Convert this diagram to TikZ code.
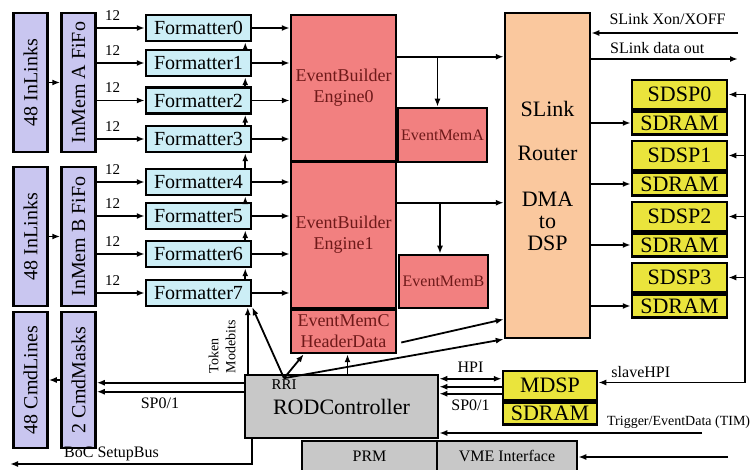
\documentclass[tikz,border=0pt]{standalone}
\usepackage{fontspec}
\setmainfont{Liberation Serif}
\usepackage{graphicx}
\usetikzlibrary{arrows.meta}
\definecolor{clav}{RGB}{201,198,240}
\definecolor{ccyan}{RGB}{204,238,246}
\definecolor{cred}{RGB}{242,128,128}
\definecolor{cpeach}{RGB}{250,200,158}
\definecolor{cyel}{RGB}{234,228,60}
\definecolor{cgray}{RGB}{200,200,200}
\definecolor{cmaroon}{RGB}{110,25,25}
\tikzset{rodpic/.style={x=1pt,y=-1pt,>={Latex[length=8pt,width=6pt]},line width=1.8pt},
  blk/.style={draw,line width=2.5pt,inner sep=1pt,font=\fontsize{20}{22}\selectfont},
  lavbox/.style={blk,fill=clav,minimum width=34pt,minimum height=139pt},
  fmtbox/.style={blk,fill=ccyan,minimum width=105pt,minimum height=26pt},
  ebbox/.style={blk,fill=cred,text=cmaroon,font=\fontsize{18}{21}\selectfont,align=center},
  dspbox/.style={blk,fill=cyel,minimum width=95pt,font=\fontsize{22}{22}\selectfont},
  graybox/.style={blk,fill=cgray},
  lbl/.style={font=\fontsize{16}{16}\selectfont,inner sep=1pt},
  bits/.style={font=\fontsize{15}{15}\selectfont,inner sep=1pt}}
\begin{document}
\begin{tikzpicture}[rodpic]
    \useasboundingbox (0,0) rectangle (753,470);
    \clip (0,0) rectangle (753,470);
    % input links and fifos
    \node[lavbox] (inA) at (30.5,82.5) {\rotatebox{90}{48 InLinks}};
    \node[lavbox] (memA) at (78.5,82.5) {\rotatebox{90}{InMem A FiFo}};
    \node[lavbox] (inB) at (30.5,236.5) {\rotatebox{90}{48 InLinks}};
    \node[lavbox] (memB) at (78.5,236.5) {\rotatebox{90}{InMem B FiFo}};
    \node[lavbox,minimum height=136pt] (cmdL) at (30.5,380) {\rotatebox{90}{48 CmdLines}};
    \node[lavbox,minimum height=136pt] (cmdM) at (78.5,380) {\rotatebox{90}{2 CmdMasks}};
    \draw[->] (inA.east) -- (memA.west);
    \draw[->] (inB.east) -- (memB.west);
    \draw[->] (cmdM.west) -- (cmdL.east);
    % formatters
    \foreach \i/\y in {0/28,1/63,2/100.5,3/139,4/182,5/216,6/254,7/293}
      \node[fmtbox] (f\i) at (198.5,\y) {Formatter\i};
    \foreach \i in {0,...,3}
      \draw[->] (memA.east |- f\i.west) -- node[bits,above=6pt,pos=0.33] {12} (f\i.west);
    \foreach \i in {4,...,7}
      \draw[->] (memB.east |- f\i.west) -- node[bits,above=6pt,pos=0.33] {12} (f\i.west);
    \foreach \a/\b in {1/0,2/1,3/2,4/3,5/4,6/5,7/6}
      \draw[->] ([xshift=-7pt]f\a.north east) -- ([xshift=-7pt]f\b.south east); % token chain
    % event builders
    \node[ebbox,minimum width=105pt,minimum height=146pt] (eb0) at (343.5,88) {EventBuilder\\Engine0};
    \node[ebbox,minimum width=105pt,minimum height=146pt] (eb1) at (343.5,235) {EventBuilder\\Engine1};
    \node[ebbox,minimum width=105pt,minimum height=43pt] (memC) at (343.5,331.5) {EventMemC\\HeaderData};
    \node[ebbox,font=\fontsize{16}{18}\selectfont,minimum width=89pt,minimum height=54pt] (evA) at (442.5,135) {EventMemA};
    \node[ebbox,font=\fontsize{16}{18}\selectfont,minimum width=89pt,minimum height=53pt] (evB) at (443.5,281.5) {EventMemB};
    \foreach \i in {0,...,3} \draw[->] (f\i.east) -- (f\i.east -| eb0.west);
    \foreach \i in {4,...,7} \draw[->] (f\i.east) -- (f\i.east -| eb1.west);
    % router and dsps
    \node[blk,fill=cpeach,minimum width=85pt,minimum height=325pt,align=center,font=\fontsize{22}{22}\selectfont]
      (router) at (547.5,175.5) {SLink\\[22pt]Router\\[24pt]DMA\\to\\DSP};
    \coordinate (e0) at ([yshift=-43pt]eb0.north east);
    \coordinate (e1) at ([yshift=-42pt]eb1.north east);
    \draw[->] (e0) -- (e0 -| router.west);
    \draw[->] ([xshift=-5pt]evA.north |- e0) -- ([xshift=-5pt]evA.north);
    \draw[->] (e1) -- (e1 -| router.west);
    \draw[->] ([xshift=-3.5pt]evB.north |- e1) -- ([xshift=-3.5pt]evB.north);
    \draw[->] ([xshift=4pt,yshift=-11pt]memC.east) -- ([yshift=20pt]router.south west);
    \foreach \i in {0,...,3} {
      \node[dspbox,minimum height=29pt] (sdsp\i) at (679.5,{94.5+61*\i}) {SDSP\i};
      \node[dspbox,minimum height=23pt,anchor=north] (sdram\i) at (sdsp\i.south) {SDRAM};
      \draw[->] (sdram\i.west -| router.east) -- (sdram\i.west);
    }
    \coordinate (xon) at (738,33);
    \coordinate (dout) at (738,59);
    \draw[->] (xon) -- node[lbl,above=6pt,pos=0.48] {SLink Xon/XOFF} (xon -| router.east);
    \draw[->] (dout -| router.east) -- node[lbl,above=3pt,pos=0.45] {SLink data out} (dout);
    % master dsp
    \node[dspbox,minimum height=29pt,minimum width=94pt] (mdsp) at (550,385.5) {MDSP};
    \node[dspbox,minimum height=22pt,minimum width=94pt,anchor=north] (mram) at (mdsp.south) {SDRAM};
    \coordinate (bus) at (745,0);
    \draw[->] (bus |- sdsp0.east) -- ([yshift=3pt]bus |- mdsp.east) -- node[lbl,above=3pt,pos=0.71] {slaveHPI} ([yshift=3pt]mdsp.east);
    \foreach \i in {0,...,3} \draw[->] (bus |- sdsp\i.east) -- (sdsp\i.east);
    % rod controller
    \node[graybox,minimum width=193pt,minimum height=63pt,font=\fontsize{22}{22}\selectfont] (rod) at (341.5,406.5) {RODController};
    \node[lbl,font=\fontsize{15}{15}\selectfont] (rri) at (284,385) {RRI};
    \node[graybox,minimum width=135pt,minimum height=30pt,font=\fontsize{16}{16}\selectfont] (prm) at (369.5,456) {PRM};
    \node[graybox,minimum width=140pt,minimum height=30pt,font=\fontsize{16}{16}\selectfont] (vme) at (507,456) {VME Interface};
    \draw[->] ([xshift=4pt]rod.north west) -- ([xshift=4pt]rod.north west |- f7.south);
    \node[lbl,font=\fontsize{14}{17}\selectfont,rotate=90,align=left] (tok) at (222,347) {Token\\Modebits};
    \draw[->] (rri.north) -- (f7.south east);
    \draw[->] (rri.north) -- ([xshift=14pt]memC.south west);
    \draw[->] (rri.north) -- (router.south west);
    \draw[->] ([xshift=4pt]memC.south |- rod.north) -- ([xshift=4pt]memC.south);
    \draw[->] ([yshift=-9pt]rod.north west) -- ([yshift=-9pt]rod.north west -| cmdM.east);
    \draw[->] ([yshift=-18pt]rod.north west) -- node[lbl,below=4pt,pos=0.57] {SP0/1} ([yshift=-18pt]rod.north west -| cmdM.east);
    \coordinate (boc) at (10,464);
    \draw[->] ([xshift=8pt]rod.south west) |- node[lbl,above=1pt,pos=0.79] {BoC SetupBus} (boc);
    \draw[<->] ([yshift=-5pt]rod.north east) -- node[lbl,above=4pt] {HPI} ([yshift=-5pt]rod.north east -| mdsp.west);
    \draw[<-] ([yshift=-13pt]rod.north east) -- ([yshift=-13pt]rod.north east -| mdsp.west);
    \draw[<-] ([yshift=-20pt]rod.north east) -- node[lbl,below=4pt] {SP0/1} ([yshift=-20pt]rod.north east -| mdsp.west);
    \coordinate (trig) at (702,433);
    \draw[->] (trig) -- node[lbl,font=\fontsize{14}{15}\selectfont,anchor=south east,xshift=50pt,yshift=3pt,pos=0] {Trigger/EventData (TIM)} (trig -| rod.east);
    \coordinate (vmein) at (728,457);
    \draw[->] (vmein) -- (vmein -| vme.east);
\end{tikzpicture}
\end{document}
